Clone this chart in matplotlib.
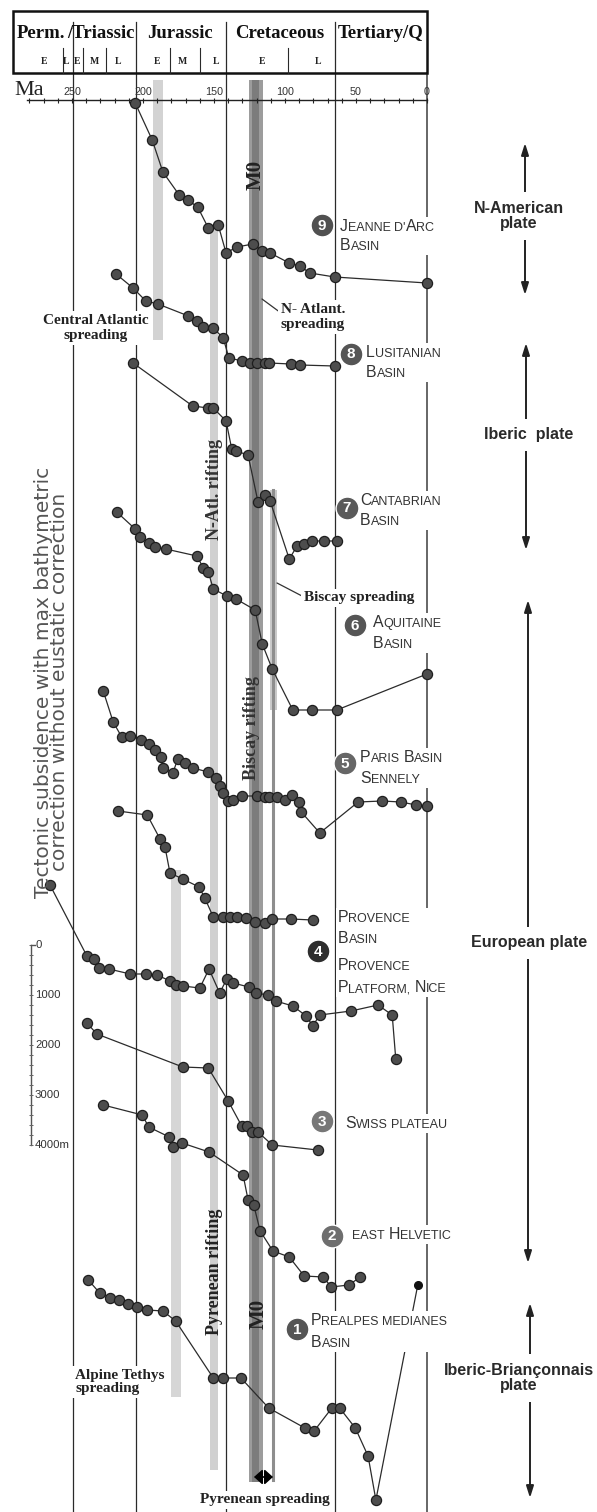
import matplotlib
matplotlib.use("Agg")
import matplotlib.pyplot as plt
from matplotlib import font_manager
from matplotlib.patches import Rectangle
from matplotlib.transforms import Bbox
import numpy as np

# ---- subsidence curves: age (Ma) and tectonic subsidence (m) below first sample ----
jda_age = [205.5, 193.5, 186, 174.5, 168.5, 161.5, 154, 147, 141.5, 134, 122.5, 116, 110.5, 97, 89.5, 82.5, 65, 0]
jda_sub = [0, 740, 1380, 1840, 1940, 2080, 2500, 2440, 3000, 2880, 2820, 2960, 3000, 3200, 3260, 3400, 3480, 3600]

lus_age = [219, 207, 198, 189.5, 168, 162, 157.5, 150.5, 143.5, 139.5, 130, 124.5, 119.5, 114, 111, 96, 89.5, 65]
lus_sub = [0, 280, 540, 600, 840, 940, 1060, 1080, 1280, 1680, 1740, 1780, 1780, 1780, 1780, 1800, 1820, 1840]

can_age = [207, 165, 154, 150.5, 141.5, 137.5, 134.5, 126, 119, 114, 110.5, 97, 91.5, 86.5, 81, 72.5, 63.5]
can_sub = [0, 860, 900, 900, 1160, 1720, 1760, 1840, 2780, 2640, 2760, 3920, 3660, 3620, 3560, 3560, 3560]

aqu_age = [218.5, 205.5, 202, 196, 191.5, 184, 162, 157.5, 154, 150.5, 141, 134.5, 121, 116, 109, 94.5, 81, 63.5, 0]
aqu_sub = [0, 340, 500, 620, 700, 740, 880, 1120, 1200, 1540, 1680, 1740, 1960, 2640, 3140, 3960, 3960, 3960, 3240]

par_age = [228, 221, 215, 209, 201.5, 196, 191.5, 187.5, 186, 179, 175.5, 170.5, 165, 154, 148.5, 146, 143.5,
           140, 136.5, 130.5, 119.5, 114, 111, 105.5, 100, 95, 90, 88.5, 75.5, 48.5, 31.5, 18.5, 7.5, 0]
par_sub = [0, 620, 920, 900, 980, 1060, 1180, 1320, 1540, 1640, 1360, 1440, 1540, 1620, 1740, 1900, 2040,
           2200, 2180, 2100, 2100, 2120, 2120, 2120, 2180, 2080, 2220, 2420, 2840, 2220, 2200, 2220, 2280, 2300]

prb_age = [217.5, 197, 188, 184.5, 181, 172, 160.5, 156.5, 150.5, 143.5, 138.5, 134, 127.5, 121, 114, 109, 96, 80.5]
prb_sub = [0, 80, 560, 720, 1240, 1360, 1520, 1740, 2120, 2120, 2120, 2120, 2140, 2220, 2240, 2160, 2160, 2180]

prp_age = [265.5, 239.5, 234.5, 231, 224, 209, 198, 190, 181, 177, 172, 160, 153.5, 146, 141, 136.5, 125.5,
           120.5, 112, 106.5, 94.5, 85, 80.5, 75.5, 53.5, 34.5, 24.5, 22]
prp_sub = [0, 1420, 1480, 1660, 1680, 1780, 1780, 1800, 1920, 2000, 2020, 2060, 1680, 2160, 1880, 1960, 2040,
           2160, 2200, 2320, 2420, 2620, 2820, 2600, 2520, 2400, 2600, 3480]

swi_age = [239.5, 232.5, 172, 154, 140, 130.5, 127, 123, 119, 109, 77]
swi_sub = [0, 220, 880, 900, 1560, 2060, 2060, 2180, 2180, 2440, 2540]

hel_age = [228, 200.5, 196, 181.5, 179, 172.5, 153.5, 129.5, 126, 122, 117.5, 108.5, 97, 86.5, 73, 67.5, 55, 47]
hel_sub = [0, 200, 440, 640, 840, 760, 940, 1400, 1900, 2000, 2520, 2920, 3040, 3420, 3440, 3640, 3600, 3440]

pre_age = [238.5, 230.5, 223, 217, 210.5, 204, 197, 186, 177, 150.5, 143.5, 131, 111.5, 86, 79.5, 67, 61.5,
           50.5, 41.5, 36, 6.5]
pre_sub = [0, 260, 360, 400, 480, 540, 600, 620, 820, 1960, 1960, 1960, 2560, 2960, 3020, 2560, 2560,
           2960, 3520, 4400, 100]

# ---- time scale ----
ma_ticks = [250, 200, 150, 100, 50, 0]
period_names = ['Perm.', '/Triassic', 'Jurassic', 'Cretaceous', 'Tertiary/Q']
period_mid = [272, 230, 174, 103.5, 33]
period_bounds = [249, 205, 141.5, 65]
epoch_names = ['E', 'L', 'E', 'M', 'L', 'E', 'M', 'L', 'E', 'L']
epoch_mid = [270, 254, 246.5, 234.5, 217.5, 190, 172, 148.5, 116, 77]
epoch_bounds = [256, 242, 226, 181, 160, 98]

# tectonic events (age ranges, Ma)
central_atlantic = (193, 186)
n_atlantic_rift = (153, 147)
alpine_tethys = (180, 173)
m0_anomaly = (125, 115.5)
biscay_spreading = (110.5, 105.5)

basin_names = {
    9: ["Jeanne d'Arc", "Basin"],
    8: ["Lusitanian", "Basin"],
    7: ["Cantabrian", "Basin"],
    6: ["Aquitaine", "Basin"],
    5: ["Paris Basin", "Sennely"],
    4: ["Provence", "Basin", "Provence", "Platform, Nice"],
    3: ["Swiss plateau"],
    2: ["east Helvetic"],
    1: ["Prealpes medianes", "Basin"],
}
plates = ['N-American\nplate', 'Iberic  plate', 'European plate', 'Iberic-Briançonnais\nplate']

# ---- layout ----
X0, PX_PER_MA = 427.0, 1.42   # column of 0 Ma and horizontal scale (px)
M_PER_PX = 20.0               # vertical scale of the subsidence curves


def ma(px):
    return (X0 - px) / PX_PER_MA


avail = {f.name for f in font_manager.fontManager.ttflist}
NARROW = 'Liberation Sans Narrow' if 'Liberation Sans Narrow' in avail else 'Liberation Sans'
NS = 1.0 if NARROW.endswith('Narrow') else 0.82
SERIF = 'Liberation Serif'
SANS = 'Liberation Sans'

fig = plt.figure(figsize=(5.97, 15.12), dpi=100, facecolor='w')
ax = fig.add_axes([0, 0, 1, 1])
ax.set_xlim(ma(0), ma(597))
ax.set_ylim(1512, 0)
ax.axis('off')

# event bands
for (a0, a1), (y0, y1), c in [(central_atlantic, (80, 340), '#d3d3d3'),
                              (n_atlantic_rift, (230, 1470), '#d0d0d0'),
                              (alpine_tethys, (870, 1397), '#d6d6d6'),
                              (biscay_spreading, (490, 710), '#cacaca'),
                              (m0_anomaly, (80, 1482), '#9c9c9c')]:
    ax.fill_betweenx([y0, y1], a0, a1, color=c, lw=0, zorder=0.5)
ax.fill_betweenx([80, 1482], 123.5, 118, color='#7c7c7c', lw=0, zorder=0.6)
ax.plot([108.3, 108.3], [490, 1480], color='#8e8e8e', lw=2.2, zorder=0.7)

# period boundaries
for b in period_bounds:
    ax.plot([b, b], [22, 1512], color='#2a2a2a', lw=0.9, zorder=1)
ax.plot([0, 0], [73, 1512], color='#5a5a5a', lw=1.3, zorder=1)

# header
ax.add_patch(Rectangle((ma(13), 11), ma(427) - ma(13), 62, fill=False, lw=1.8,
                       ec='#111111', zorder=6))
for name, m in zip(period_names, period_mid):
    ax.text(m, 38, name, ha='center', va='baseline', fontsize=13.5, family=SERIF,
            weight='bold', color='#111111', zorder=6)
for name, m in zip(epoch_names, epoch_mid):
    ax.text(m, 62, name, ha='center', va='center', fontsize=7, family=SERIF,
            weight='bold', color='#222222', zorder=6)
for b in epoch_bounds:
    ax.plot([b, b], [48, 73], color='#2a2a2a', lw=0.8, zorder=6)

ax.text(ma(14), 95, 'Ma', ha='left', va='baseline', fontsize=16, family=SERIF, color='#222222')
for t in ma_ticks:
    ax.text(t, 95, str(t), ha='center', va='baseline', fontsize=9.5 * NS, family=NARROW,
            color='#333333')
ax.plot([ma(27), 0], [100, 100], color='#222222', lw=1.0)
ax.vlines(np.arange(280, -1, -10), 97.5, 102.5, color='#222222', lw=0.8)

# subsidence curves
basins = [(jda_age, jda_sub, 103), (lus_age, lus_sub, 274), (can_age, can_sub, 363),
          (aqu_age, aqu_sub, 512), (par_age, par_sub, 691), (prb_age, prb_sub, 811),
          (prp_age, prp_sub, 885), (swi_age, swi_sub, 1023), (hel_age, hel_sub, 1105),
          (pre_age, pre_sub, 1280)]
style = dict(color='#2b2b2b', lw=0.9, marker='o', ms=7.3, mfc='#4d4d4d', mec='#1e1e1e',
             mew=0.9, zorder=3)
for age, sub, top in basins[:-1]:
    ax.plot(age, top + np.asarray(sub) / M_PER_PX, **style)
age, sub, top = basins[-1]
y = top + np.asarray(sub) / M_PER_PX
ax.plot(age, y, markevery=slice(0, -1), **style)
ax.plot(age[-1], y[-1], 'o', ms=5.5, color='#111111', zorder=3)

# basin labels set in small capitals
label_pos = {9: (340, [231, 250]), 8: (366, [357, 377]), 7: (360, [505, 525]),
             6: (373, [627, 648]), 5: (360, [762, 783]), 4: (338, [922, 943, 970, 992]),
             3: (345, [1128]), 2: (352, [1239]), 1: (311, [1325, 1347])}


def caps_line(x, yb, s, big=14, small=11):
    runs, space = [], False
    for ch in s:
        if ch == ' ':
            space = True
            continue
        low = ch.islower() if ch.isalpha() else (runs[-1][1] if runs else False)
        if runs and runs[-1][1] == low and not space:
            runs[-1][0] += ch
        else:
            runs.append([ch, low, space])
        space = False
    pieces = []
    for txt, low, sp in runs:
        size = (small if low else big) * NS
        kw = dict(fontsize=size, family=NARROW, color='#333333', zorder=5)
        if not pieces:
            t = ax.text(ma(x), yb, txt.upper(), ha='left', va='baseline', **kw)
        else:
            t = ax.annotate(txt.upper(), xy=(1, 0), xycoords=pieces[-1],
                            xytext=(0.27 * size if sp else 0, 0), textcoords='offset points',
                            ha='left', va='bottom', **kw)
        pieces.append(t)
    return pieces


label_groups = []
for k, lines in basin_names.items():
    x, ys = label_pos[k]
    group = []
    for s, yb in zip(lines, ys):
        group += caps_line(x, yb, s)
    label_groups.append(group)

# numbered basin markers
circles = {9: (322, 225, '#505050'), 8: (351, 354, '#555555'), 7: (347, 508, '#5a5a5a'),
           6: (355, 625, '#555555'), 5: (345, 763, '#666666'), 4: (318, 951, '#2e2e2e'),
           3: (322, 1121, '#777777'), 2: (332, 1236, '#6e6e6e'), 1: (297, 1329, '#555555')}
for k, (x, yc, c) in circles.items():
    ax.plot(ma(x), yc, 'o', ms=16.5, color=c, mec='white', mew=1.0, zorder=7)
    ax.text(ma(x), yc + 0.5, str(k), ha='center', va='center', fontsize=11, family=SANS,
            weight='bold', color='white', zorder=8)

# event annotations
box = dict(fc='white', ec='none', pad=2)
sb = dict(family=SERIF, weight='bold', color='#222222', fontsize=11)
ax.text(ma(96), 328, 'Central Atlantic\nspreading', ha='center', va='center',
        linespacing=1.25, bbox=box, zorder=5, **sb)
ax.text(ma(313), 317, 'N- Atlant.\nspreading', ha='center', va='center',
        linespacing=1.25, bbox=box, zorder=5, **sb)
ax.text(ma(359), 598, 'Biscay spreading', ha='center', va='center', bbox=box, zorder=5, **sb)
ax.text(ma(75), 1382, 'Alpine Tethys\nspreading', ha='left', va='center',
        linespacing=1.05, bbox=box, zorder=5, **sb)
ax.text(ma(265), 1500, 'Pyrenean spreading', ha='center', va='center', bbox=box, zorder=5, **sb)
ax.annotate('', xy=(ma(262), 299), xytext=(ma(281), 313),
            arrowprops=dict(arrowstyle='-', color='#333333', lw=0.9, shrinkA=0, shrinkB=0))
ax.annotate('', xy=(ma(277), 583), xytext=(ma(302), 596),
            arrowprops=dict(arrowstyle='-', color='#333333', lw=0.9, shrinkA=0, shrinkB=0))
ax.annotate('', xy=(ma(254), 1477), xytext=(ma(273), 1477),
            arrowprops=dict(arrowstyle='<|-|>,head_length=0.5,head_width=0.45',
                            color='black', lw=1.2, shrinkA=0, shrinkB=0), zorder=6)

rot = dict(rotation=90, ha='center', va='center', zorder=5, family=SERIF, weight='bold')
ax.text(ma(215), 490, 'N-Atl. rifting', fontsize=13, color='#333333', **rot)
ax.text(ma(252), 728, 'Biscay rifting', fontsize=13, color='#333333', **rot)
ax.text(ma(215), 1272, 'Pyrenean rifting', fontsize=13, color='#222222', **rot)
ax.text(ma(256), 175, 'M0', fontsize=15, color='#222222', **rot)
ax.text(ma(259), 1314, 'M0', fontsize=15, color='#222222', **rot)

# plates
plate_pos = [(519, 216, 525, 143, 295), (529, 435, 526, 343, 550),
             (529, 943, 528, 600, 1263), (519, 1378, 530, 1303, 1498)]
for name, (tx, ty, axx, y0, y1) in zip(plates, plate_pos):
    ax.annotate('', xy=(ma(axx), y0), xytext=(ma(axx), y1),
                arrowprops=dict(arrowstyle='<|-|>,head_length=0.7,head_width=0.22',
                                color='#222222', lw=1.4, shrinkA=0, shrinkB=0), zorder=2)
    ax.text(ma(tx), ty, name, ha='center', va='center', fontsize=11.5, family=SANS,
            weight='bold', color='#2a2a2a', linespacing=1.05,
            bbox=dict(fc='white', ec='none', pad=6), zorder=5)

# axis title and depth scale
ax.text(ma(52), 682, 'Tectonic subsidence with max bathymetric\ncorrection without eustatic correction',
        rotation=90, ha='center', va='center', fontsize=14.5, family='DejaVu Sans',
        color='#555555', linespacing=0.8)
scale_top, scale_x = 945, ma(31)
depth_ticks = np.arange(0, 4001, 200)
ax.plot([scale_x, scale_x], [scale_top, scale_top + 4000 / M_PER_PX], color='#555555', lw=1.0)
ax.hlines(scale_top + depth_ticks / M_PER_PX, scale_x + 1.2, scale_x - 1.2, color='#666666', lw=0.7)
ax.plot([scale_x, scale_x - 2.5], [scale_top, scale_top], color='#555555', lw=1.0)
for d in range(0, 4001, 1000):
    ax.text(ma(35), scale_top + d / M_PER_PX, f'{d}m' if d == 4000 else str(d), ha='left',
            va='center', fontsize=10 * NS, family=NARROW, color='#333333')

# white ground behind each basin label block
fig.canvas.draw()
r = fig.canvas.get_renderer()
inv = ax.transData.inverted()
for group in label_groups:
    bb = Bbox.union([p.get_window_extent(r) for p in group]).padded(2)
    (x0, y0), (x1, y1) = inv.transform([(bb.x0, bb.y0), (bb.x1, bb.y1)])
    ax.add_patch(Rectangle((x0, y0), x1 - x0, y1 - y0, fc='white', ec='none', zorder=4))

fig.savefig('out.png', dpi=100, facecolor='w')
